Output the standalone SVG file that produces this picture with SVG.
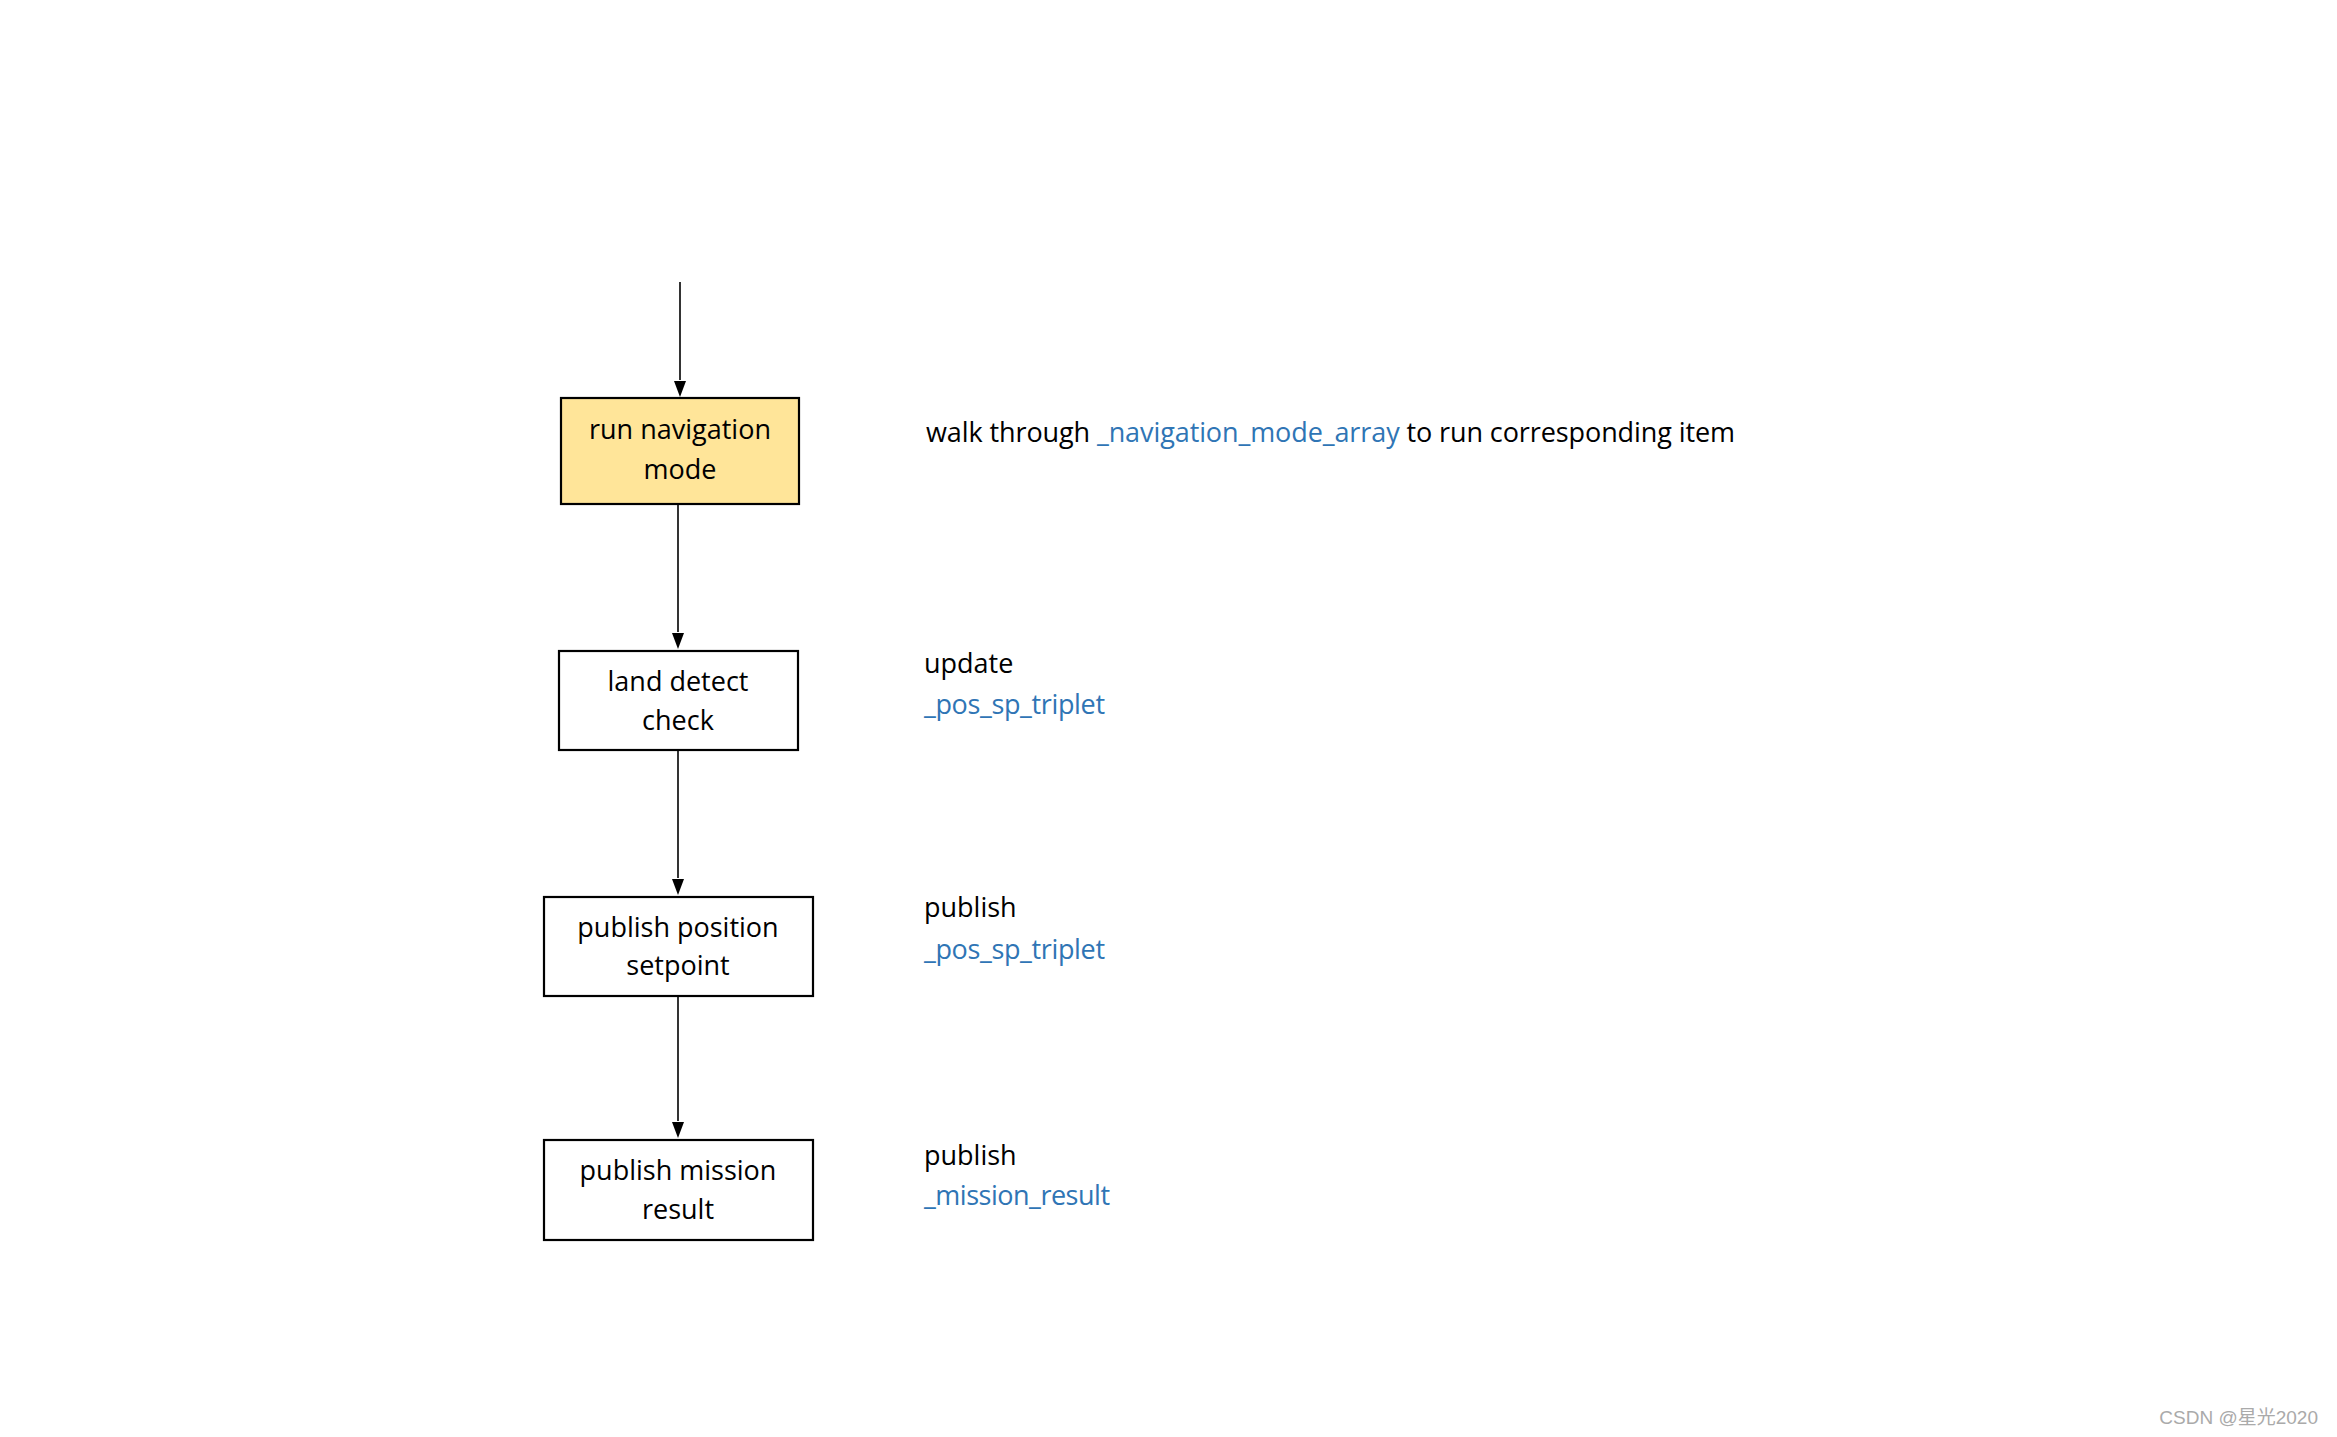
<svg xmlns="http://www.w3.org/2000/svg" width="2337" height="1437" viewBox="0 0 2337 1437">
<defs>
<marker id="ah" markerWidth="12" markerHeight="16" refX="6" refY="16" orient="auto-start-reverse" markerUnits="userSpaceOnUse" viewBox="0 0 12 16">
<path d="M0,0 L12,0 L6,16 Z" fill="#000" transform="rotate(0)"/>
</marker>
<style>
.box{fill:#fff;stroke:#000;stroke-width:2.2}
.hl{fill:#FFE599}
.t{font-family:"Open Sans","Noto Sans",sans-serif;font-size:27px;fill:#000;text-anchor:middle}
.r{font-family:"Open Sans","Noto Sans",sans-serif;font-size:27px;fill:#000}
.b{fill:#2F75B5}
.c{stroke:#000;stroke-width:1.6;fill:none}
</style>
</defs>
<rect width="2337" height="1437" fill="#fff"/>
<g id="connectors">
<line class="c" x1="680" y1="282" x2="680" y2="380"/>
<path d="M674,381 L686,381 L680,397 Z" fill="#000"/>
<line class="c" x1="678" y1="505" x2="678" y2="632"/>
<path d="M672,633 L684,633 L678,649 Z" fill="#000"/>
<line class="c" x1="678" y1="751" x2="678" y2="878"/>
<path d="M672,879 L684,879 L678,895 Z" fill="#000"/>
<line class="c" x1="678" y1="997" x2="678" y2="1121"/>
<path d="M672,1122 L684,1122 L678,1138 Z" fill="#000"/>
</g>
<g id="node-run">
<rect class="box hl" x="561" y="398" width="238" height="106"/>
<text class="t" x="680" y="439">run navigation</text>
<text class="t" x="680" y="479">mode</text>
</g>
<g id="node-land">
<rect class="box" x="559" y="651" width="239" height="99"/>
<text class="t" x="678" y="691">land detect</text>
<text class="t" x="678" y="730">check</text>
</g>
<g id="node-pubpos">
<rect class="box" x="544" y="897" width="269" height="99"/>
<text class="t" x="678" y="937">publish position</text>
<text class="t" x="678" y="975">setpoint</text>
</g>
<g id="node-pubmis">
<rect class="box" x="544" y="1140" width="269" height="100"/>
<text class="t" x="678" y="1180">publish mission</text>
<text class="t" x="678" y="1219">result</text>
</g>
<g id="notes">
<text class="r" x="926" y="442" textLength="809">walk through <tspan class="b">_navigation_mode_array</tspan> to run corresponding item</text>
<text class="r" x="924" y="673">update</text>
<text class="r b" x="924" y="714" textLength="181">_pos_sp_triplet</text>
<text class="r" x="924" y="917">publish</text>
<text class="r b" x="924" y="959" textLength="181">_pos_sp_triplet</text>
<text class="r" x="924" y="1165">publish</text>
<text class="r b" x="924" y="1205" textLength="186">_mission_result</text>
</g>
<text x="2318" y="1424" text-anchor="end" font-family="'Liberation Sans','Noto Sans CJK SC',sans-serif" font-size="19" fill="#aaa">CSDN @星光2020</text>
</svg>
